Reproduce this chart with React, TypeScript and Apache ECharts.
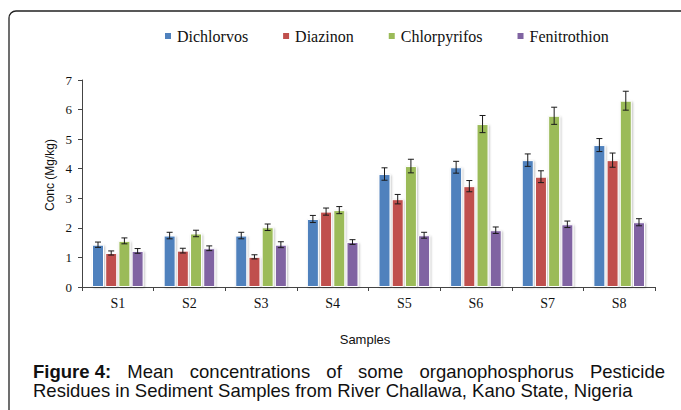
import React, { useEffect, useRef } from "react";
import * as echarts from "echarts";

const categories = ["S1", "S2", "S3", "S4", "S5", "S6", "S7", "S8"];
const seriesNames = ["Dichlorvos", "Diazinon", "Chlorpyrifos", "Fenitrothion"];
const dichlorvos = [1.43, 1.74, 1.74, 2.3, 3.82, 4.05, 4.29, 4.8];
const diazinon = [1.15, 1.23, 1.02, 2.55, 2.97, 3.41, 3.73, 4.29];
const chlorpyrifos = [1.56, 1.81, 2.02, 2.6, 4.09, 5.51, 5.79, 6.3];
const fenitrothion = [1.22, 1.31, 1.43, 1.52, 1.75, 1.92, 2.12, 2.19];
const dichlorvosErr = [0.09, 0.11, 0.11, 0.12, 0.21, 0.2, 0.21, 0.22];
const diazinonErr = [0.07, 0.08, 0.07, 0.12, 0.16, 0.19, 0.2, 0.24];
const chlorpyrifosErr = [0.1, 0.11, 0.11, 0.12, 0.23, 0.29, 0.29, 0.32];
const fenitrothionErr = [0.08, 0.08, 0.1, 0.08, 0.1, 0.11, 0.11, 0.12];
const colors = ["#4F81BD", "#C0504D", "#9BBB59", "#8064A2"];

const captionLine1 = ["Figure 4:", "Mean", "concentrations", "of", "some", "organophosphorus", "Pesticide"];
const captionLine2 = "Residues in Sediment Samples from River Challawa, Kano State, Nigeria";

const BAR_W = 12;
const BAR_GAP = 1.2;

export default function App() {
  const ref = useRef<HTMLDivElement>(null);
  useEffect(() => {
    document.body.style.margin = "0";
    if (!ref.current) return;
    const chart = echarts.init(ref.current, null, { renderer: "svg" });
    const values = [dichlorvos, diazinon, chlorpyrifos, fenitrothion];
    const errs = [dichlorvosErr, diazinonErr, chlorpyrifosErr, fenitrothionErr];

    // justified caption line 1
    const cv = document.createElement("canvas");
    const ctx = cv.getContext("2d")!;
    const fs = 18.5;
    const widths = captionLine1.map((w, i) => {
      ctx.font = (i === 0 ? "bold " : "") + fs + 'px "Liberation Sans", Arial, sans-serif';
      return ctx.measureText(w).width;
    });
    const left = 33, right = 665;
    const total = widths.reduce((a, b) => a + b, 0);
    const gap = (right - left - total) / (captionLine1.length - 1);
    let xx = left;
    const wordEls: any[] = captionLine1.map((w, i) => {
      const el = {
        type: "text",
        x: xx,
        y: 371,
        style: {
          text: w,
          font: (i === 0 ? "bold " : "") + fs + 'px "Liberation Sans", Arial, sans-serif',
          fill: "#111",
          textAlign: "left",
          textVerticalAlign: "middle",
        },
      };
      xx += widths[i] + gap;
      return el;
    });

    const barSeries = seriesNames.map((name, si) => ({
      name,
      type: "bar",
      data: values[si],
      barWidth: BAR_W,
      barGap: (BAR_GAP / BAR_W) * 100 + "%",
      itemStyle: {
        color: colors[si],
        borderColor: "#ffffff",
        borderWidth: 1,
        shadowColor: "rgba(0,0,0,0.25)",
        shadowBlur: 2,
        shadowOffsetX: 1,
        shadowOffsetY: 1,
      },
      z: 2,
    }));

    const errSeries = seriesNames.map((name, si) => ({
      type: "custom",
      name: name + " error",
      z: 5,
      data: values[si].map((v, i) => [i, v, errs[si][i]]),
      renderItem: (params: any, api: any) => {
        const ci = api.value(0);
        const v = api.value(1);
        const e = api.value(2);
        const off = (si - 1.5) * (BAR_W + BAR_GAP);
        const top = api.coord([ci, v + e]);
        const bot = api.coord([ci, v - e]);
        const cx = top[0] + off;
        const cap = 3;
        const st = { stroke: "#1a1a1a", lineWidth: 1 };
        return {
          type: "group",
          children: [
            { type: "line", shape: { x1: cx, y1: top[1], x2: cx, y2: bot[1] }, style: st },
            { type: "line", shape: { x1: cx - cap, y1: top[1], x2: cx + cap, y2: top[1] }, style: st },
            { type: "line", shape: { x1: cx - cap, y1: bot[1], x2: cx + cap, y2: bot[1] }, style: st },
          ],
        };
      },
      encode: { x: 0, y: 1 },
      silent: true,
    }));

    chart.setOption({
      animation: false,
      backgroundColor: "#ffffff",
      legend: {
        data: seriesNames,
        left: 163,
        top: 28,
        padding: 0,
        itemWidth: 8,
        itemHeight: 8,
        itemGap: 33,
        icon: "rect",
        textStyle: { fontFamily: '"Liberation Serif", serif', fontSize: 16, color: "#111" },
      },
      grid: { left: 82, right: 26, top: 80, bottom: 123, containLabel: false },
      xAxis: {
        type: "category",
        data: categories,
        axisLine: { lineStyle: { color: "#444", width: 1 } },
        axisTick: { show: true, alignWithLabel: false, length: 4, lineStyle: { color: "#444" } },
        axisLabel: { fontFamily: '"Liberation Serif", serif', fontSize: 14, color: "#111", margin: 9 },
      },
      yAxis: {
        type: "value",
        min: 0,
        max: 7,
        interval: 1,
        splitLine: { show: false },
        axisLine: { show: true, lineStyle: { color: "#444", width: 1 } },
        axisTick: { show: true, length: 4, lineStyle: { color: "#444" } },
        axisLabel: { fontFamily: '"Liberation Serif", serif', fontSize: 13, color: "#111", margin: 10 },
      },
      series: [...barSeries, ...errSeries],
      graphic: [
        {
          type: "rect",
          shape: { x: 9, y: 11, width: 720, height: 440, r: [7, 0, 0, 0] },
          style: { fill: "none", stroke: "#222", lineWidth: 1.3 },
          silent: true,
          z: -1,
        },
        {
          type: "text",
          x: 50,
          y: 175,
          rotation: Math.PI / 2,
          style: {
            text: "Conc (Mg/kg)",
            font: '12px "Liberation Sans", Arial, sans-serif',
            fill: "#111",
            textAlign: "center",
            textVerticalAlign: "middle",
          },
        },
        {
          type: "text",
          x: 365,
          y: 339,
          style: {
            text: "Samples",
            font: '13px "Liberation Sans", Arial, sans-serif',
            fill: "#111",
            textAlign: "center",
            textVerticalAlign: "middle",
          },
        },
        ...wordEls,
        {
          type: "text",
          x: 33,
          y: 390,
          style: {
            text: captionLine2,
            font: fs + 'px "Liberation Sans", Arial, sans-serif',
            fill: "#111",
            textAlign: "left",
            textVerticalAlign: "middle",
          },
        },
      ],
    });
    return () => chart.dispose();
  }, []);
  return <div ref={ref} style={{ width: 681, height: 410 }} />;
}
